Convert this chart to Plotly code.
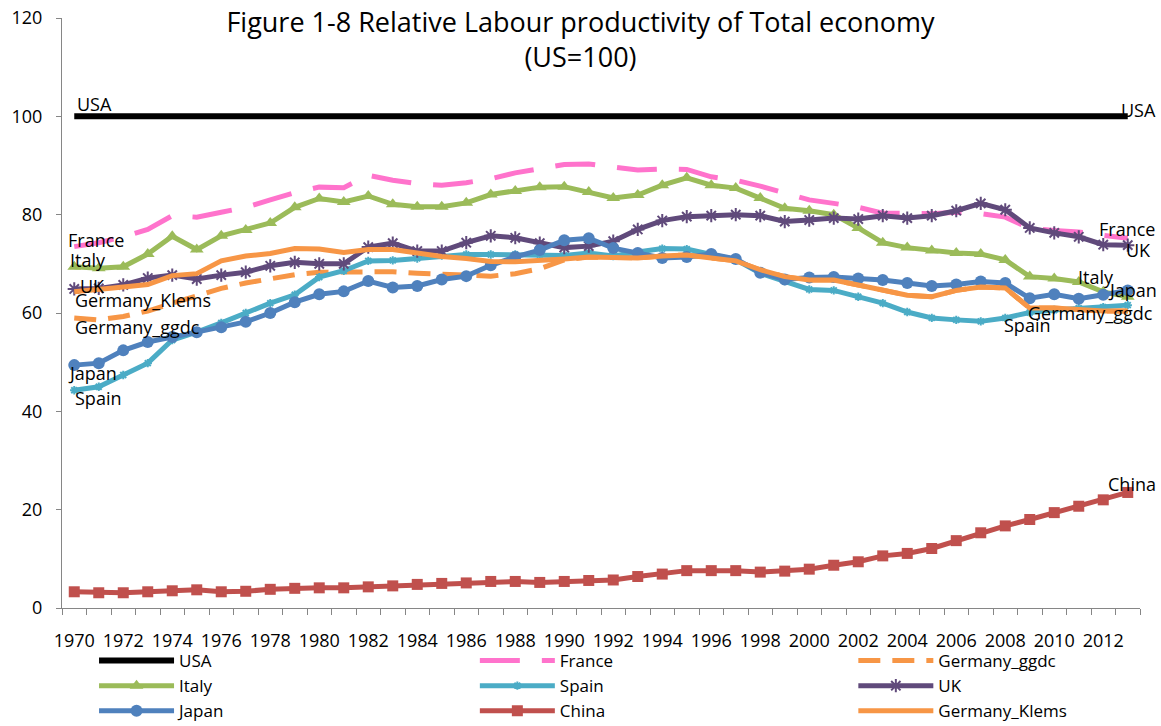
import plotly.graph_objects as go

# Years on the category axis
years = list(range(1970, 2014))
tick_years = list(range(1970, 2013, 2))

# Labour productivity relative to the USA (US = 100)
usa = [100, 100, 100, 100, 100, 100, 100, 100, 100, 100,
       100, 100, 100, 100, 100, 100, 100, 100, 100, 100,
       100, 100, 100, 100, 100, 100, 100, 100, 100, 100,
       100, 100, 100, 100, 100, 100, 100, 100, 100, 100,
       100, 100, 100, 100]
france = [73.5, 74.3, 75.5, 77.0, 79.8, 79.5, 80.5, 81.5, 83.0, 84.5,
          85.6, 85.5, 88.0, 87.0, 86.3, 86.0, 86.5, 87.3, 88.5, 89.3,
          90.2, 90.3, 89.7, 89.1, 89.3, 89.2, 87.7, 87.0, 85.8, 84.3,
          83.0, 82.3, 81.5, 80.3, 80.2, 80.2, 80.5, 80.2, 79.5, 77.2,
          76.8, 76.5, 75.8, 75.2]
germany_ggdc = [59.0, 58.6, 59.3, 60.4, 62.0, 63.5, 65.0, 66.1, 67.0, 67.8,
                68.3, 68.3, 68.5, 68.4, 68.1, 67.9, 67.6, 67.5, 68.0, 69.0,
                70.8, 71.4, 71.3, 71.2, 71.6, 71.8, 71.2, 70.6, 68.8, 67.4,
                66.7, 66.7, 65.7, 64.6, 63.6, 63.3, 64.6, 65.3, 65.1, 61.0,
                61.0, 60.7, 60.4, 60.4]
italy = [69.4, 69.1, 69.4, 72.0, 75.6, 72.9, 75.7, 76.9, 78.3, 81.5,
         83.3, 82.6, 83.8, 82.1, 81.6, 81.6, 82.4, 84.1, 84.8, 85.6,
         85.7, 84.6, 83.4, 84.0, 86.0, 87.5, 86.0, 85.4, 83.4, 81.3,
         80.8, 80.0, 77.3, 74.3, 73.3, 72.7, 72.2, 72.0, 70.8, 67.4,
         67.0, 66.3, 64.3, 63.3]
spain = [44.3, 45.0, 47.4, 49.8, 54.5, 56.1, 58.0, 60.0, 62.0, 63.7,
         67.3, 68.6, 70.6, 70.7, 71.1, 71.7, 71.9, 71.9, 71.9, 71.9,
         71.7, 72.2, 71.6, 72.4, 73.1, 73.0, 71.8, 70.8, 68.1, 66.5,
         64.8, 64.6, 63.3, 62.0, 60.2, 59.0, 58.6, 58.3, 59.0, 60.1,
         60.6, 61.0, 61.2, 61.6]
uk = [64.9, 65.0, 65.7, 67.1, 67.7, 66.9, 67.7, 68.3, 69.6, 70.3,
      70.0, 70.0, 73.4, 74.2, 72.6, 72.6, 74.3, 75.7, 75.3, 74.2,
      73.3, 73.6, 74.6, 77.0, 78.8, 79.6, 79.8, 80.0, 79.8, 78.6,
      78.9, 79.3, 79.1, 79.8, 79.3, 79.8, 80.8, 82.3, 81.0, 77.3,
      76.3, 75.5, 73.9, 73.8]
japan = [49.4, 49.8, 52.4, 54.1, 55.1, 56.1, 57.1, 58.2, 60.0, 62.2,
         63.8, 64.4, 66.5, 65.2, 65.5, 66.8, 67.5, 69.7, 71.4, 72.8,
         74.8, 75.2, 73.2, 72.2, 71.2, 71.4, 72.0, 71.0, 68.2, 66.8,
         67.2, 67.3, 67.0, 66.7, 66.1, 65.5, 65.8, 66.4, 66.1, 63.0,
         63.8, 62.9, 63.7, 64.6]
china = [3.3, 3.1, 3.1, 3.3, 3.5, 3.7, 3.3, 3.4, 3.8, 4.0,
         4.1, 4.1, 4.3, 4.5, 4.8, 5.0, 5.1, 5.4, 5.4, 5.2,
         5.4, 5.6, 5.7, 6.4, 6.9, 7.6, 7.6, 7.6, 7.3, 7.5,
         7.9, 8.7, 9.4, 10.6, 11.1, 12.1, 13.7, 15.3, 16.7, 18.0,
         19.4, 20.7, 22.0, 23.5]
germany_klems = [64.3, 64.7, 65.3, 65.8, 67.6, 68.0, 70.6, 71.6, 72.1, 73.1,
                 73.0, 72.3, 72.9, 72.9, 72.2, 71.5, 71.1, 70.5, 70.4, 70.6,
                 71.0, 71.4, 71.3, 71.2, 71.6, 71.8, 71.2, 70.6, 68.8, 67.4,
                 66.7, 66.7, 65.7, 64.6, 63.6, 63.3, 64.6, 65.3, 65.1, 61.0,
                 61.0, 60.7, 60.4, 60.4]

FONT = "Open Sans"
AXIS_GREY = "#868686"

# name, values, colour, line width, dash, marker symbol, marker size, legend column
series = [
    ("USA", usa, "#000000", 6, "solid", None, 0, "legend"),
    ("France", france, "#FF73CC", 5, "40px,22px", None, 0, "legend2"),
    ("Germany_ggdc", germany_ggdc, "#F79646", 5, "22px,12px", None, 0, "legend3"),
    ("Italy", italy, "#9BBB59", 5, "solid", "triangle-up", 12, "legend"),
    ("Spain", spain, "#4BACC6", 5, "solid", "asterisk-open", 7, "legend2"),
    ("UK", uk, "#604A7B", 5, "solid", "asterisk-open", 11, "legend3"),
    ("Japan", japan, "#4F81BD", 5, "solid", "circle", 12, "legend"),
    ("China", china, "#C0504D", 5, "solid", "square", 11, "legend2"),
    ("Germany_Klems", germany_klems, "#F79646", 5, "solid", None, 0, "legend3"),
]

fig = go.Figure()
for name, vals, color, width, dash, symbol, size, leg in series:
    kw = dict(x=years, y=vals, name=name, legend=leg,
              line=dict(color=color, width=width, dash=dash))
    if symbol is None:
        kw["mode"] = "lines"
    else:
        kw["mode"] = "lines+markers"
        if symbol.endswith("-open"):
            kw["marker"] = dict(symbol=symbol, size=size, color=color,
                                line=dict(color=color, width=2))
        else:
            kw["marker"] = dict(symbol=symbol, size=size, color=color)
    fig.add_trace(go.Scatter(**kw))

# Series-name labels at both ends of the lines
start_labels = [
    ("USA", usa, 2, 12),
    ("France", france, -7, 7),
    ("Italy", italy, -5, 7),
    ("UK", uk, 5, 3),
    ("Germany_Klems", germany_klems, 0, -8),
    ("Germany_ggdc", germany_ggdc, 0, -9),
    ("Japan", japan, -7, -8),
    ("Spain", spain, 0, -8),
]
end_labels = [
    ("USA", usa, -8, 6),
    ("France", france, -30, 9),
    ("UK", uk, -3, -5),
    ("Italy", italy, -51, 20),
    ("Japan", japan, -21, 0),
    ("Germany_ggdc", germany_ggdc, -101, -2),
    ("Spain", spain, -125, -20),
    ("China", china, -21, 8),
]
annotations = []
for name, vals, dx, dy in start_labels:
    annotations.append(dict(x=years[0], y=vals[0], text=name, showarrow=False,
                            xanchor="left", yanchor="middle", xshift=dx, yshift=dy,
                            borderpad=0,
                            font=dict(family=FONT, size=18, color="#000000")))
for name, vals, dx, dy in end_labels:
    annotations.append(dict(x=years[-1], y=vals[-1], text=name, showarrow=False,
                            xanchor="left", yanchor="middle", xshift=dx, yshift=dy,
                            borderpad=0,
                            font=dict(family=FONT, size=18, color="#000000")))

legend_style = dict(orientation="v", xref="container", yref="container",
                    xanchor="left", yanchor="top", y=0.1143, itemwidth=75,
                    font=dict(family=FONT, size=17), bgcolor="rgba(0,0,0,0)",
                    tracegroupgap=0)

fig.update_layout(
    width=1161, height=726,
    margin=dict(l=62, r=21, t=18, b=118, autoexpand=False),
    paper_bgcolor="white", plot_bgcolor="white",
    font=dict(family=FONT, size=18, color="#000000"),
    title=dict(text="Figure 1-8 Relative Labour productivity of Total economy<br>(US=100)",
               x=0.5, xanchor="center", y=0.956, yanchor="middle",
               font=dict(family=FONT, size=27, color="#000000")),
    xaxis=dict(range=[1969.5, 2013.5], tickmode="array", tickvals=tick_years,
               ticktext=[str(y) for y in tick_years],
               ticks="outside", ticklen=16, tickcolor="rgba(0,0,0,0)",
               showline=True, linecolor=AXIS_GREY, linewidth=1,
               showgrid=False, zeroline=False,
               tickfont=dict(family=FONT, size=18),
               minor=dict(tick0=1969.5, dtick=1, ticks="outside", ticklen=6,
                          tickcolor=AXIS_GREY, showgrid=False)),
    yaxis=dict(range=[0, 120], dtick=20, ticks="outside", ticklen=5,
               tickcolor=AXIS_GREY, showline=True, linecolor=AXIS_GREY,
               linewidth=1, showgrid=False, zeroline=False,
               ticklabelstandoff=10,
               tickfont=dict(family=FONT, size=18)),
    legend=dict(x=0.081, **legend_style),
    legend2=dict(x=0.409, **legend_style),
    legend3=dict(x=0.735, **legend_style),
    annotations=annotations,
    showlegend=True,
)

fig.write_html("out.html")
